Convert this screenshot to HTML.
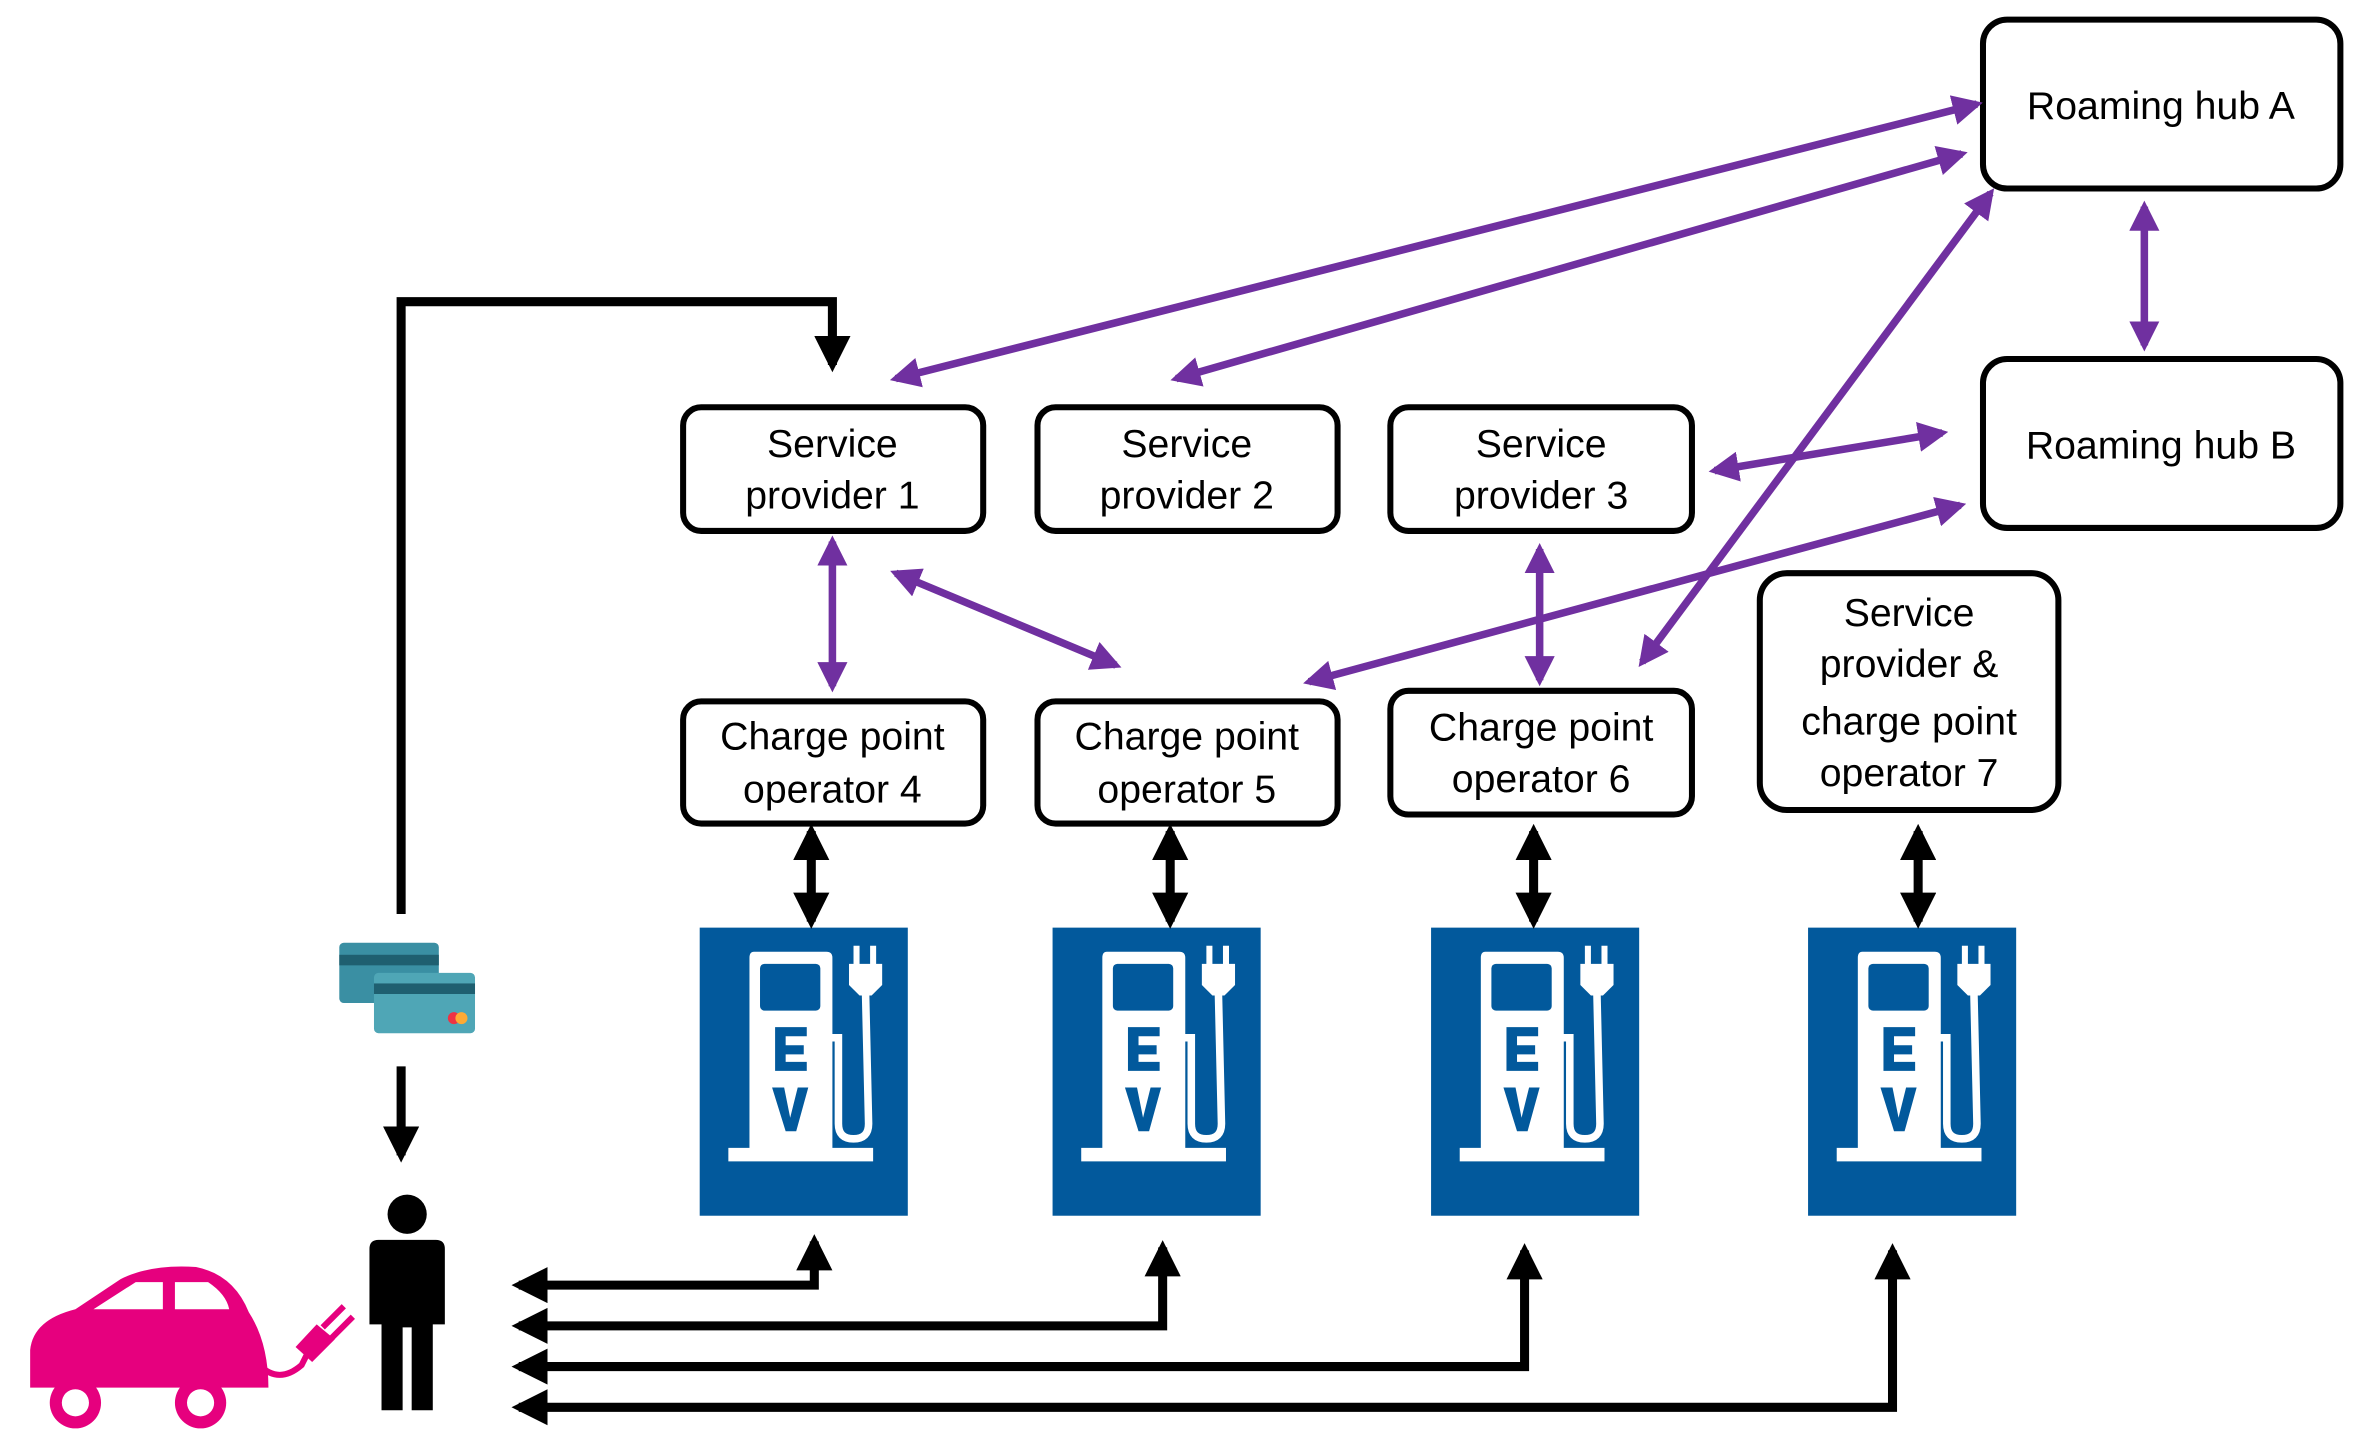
<!DOCTYPE html>
<html><head><meta charset="utf-8"><style>html,body{margin:0;padding:0;background:#fff}svg{display:block}</style></head>
<body>
<svg width="2363" height="1445" viewBox="0 0 1567 958" preserveAspectRatio="none" xmlns="http://www.w3.org/2000/svg" font-family="Liberation Sans, sans-serif">
<defs>
<marker id="pa" viewBox="0 0 10 10" refX="8" refY="5" markerWidth="4" markerHeight="4" orient="auto-start-reverse"><path d="M0,0 L10,5 L0,10 z" fill="#7030a0"/></marker>
<marker id="ba" viewBox="0 0 10 10" refX="8" refY="5" markerWidth="4" markerHeight="4" orient="auto-start-reverse"><path d="M0,0 L10,5 L0,10 z" fill="#000"/></marker>
<g id="ev">
<rect x="0" y="0" width="138" height="191" fill="#02599c"/>
<path d="M36,16 H84 Q88,16 88,20 V146 H115 V155 H19 V146 H33 V20 Q33,16 36,16 Z" fill="#fff"/>
<rect x="40" y="24" width="40" height="31" rx="3" fill="#02599c"/>
<path d="M50,66 H71 V72 H57 V78 H69 V84 H57 V89 H71 V95 H50 Z" fill="#02599c"/>
<path d="M48,106 H56 L60,126 L65,106 H72 L64,135 H57 Z" fill="#02599c"/>
<path d="M86,73 H92 V130 Q92,140 102,140 Q112,140 112,130 L110,44" fill="none" stroke="#fff" stroke-width="5"/>
<path d="M99,24 H121 V38 L114,45 H106 L99,38 Z" fill="#fff"/>
<rect x="102" y="12" width="4" height="13" fill="#fff"/><rect x="113" y="12" width="4" height="13" fill="#fff"/>
</g>
</defs>
<g fill="none" stroke="#000" stroke-width="4">
<rect x="1315" y="13" width="237" height="112" rx="16"/>
<rect x="1315" y="238" width="237" height="112" rx="16"/>
<rect x="453" y="270" width="199" height="82" rx="12"/>
<rect x="688" y="270" width="199" height="82" rx="12"/>
<rect x="922" y="270" width="200" height="82" rx="12"/>
<rect x="453" y="465" width="199" height="81" rx="12"/>
<rect x="688" y="465" width="199" height="81" rx="12"/>
<rect x="922" y="458" width="200" height="82" rx="12"/>
<rect x="1167" y="380" width="198" height="157" rx="18"/>
</g>
<g font-size="26" text-anchor="middle" fill="#000">
<text x="1433" y="79">Roaming hub A</text>
<text x="1433" y="304">Roaming hub B</text>
<text x="552" y="303">Service</text><text x="552" y="337">provider 1</text>
<text x="787" y="303">Service</text><text x="787" y="337">provider 2</text>
<text x="1022" y="303">Service</text><text x="1022" y="337">provider 3</text>
<text x="552" y="497">Charge point</text><text x="552" y="532">operator 4</text>
<text x="787" y="497">Charge point</text><text x="787" y="532">operator 5</text>
<text x="1022" y="491">Charge point</text><text x="1022" y="525">operator 6</text>
<text x="1266" y="415">Service</text><text x="1266" y="449">provider &amp;</text><text x="1266" y="487">charge point</text><text x="1266" y="521">operator 7</text>
</g>
<use href="#ev" x="464" y="615"/><use href="#ev" x="698" y="615"/><use href="#ev" x="949" y="615"/><use href="#ev" x="1199" y="615"/>
<g stroke="#7030a0" stroke-width="5" fill="none" marker-start="url(#pa)" marker-end="url(#pa)">
<line x1="1311" y1="69" x2="594" y2="251"/>
<line x1="1301" y1="102" x2="780" y2="251"/>
<line x1="1320" y1="128" x2="1089" y2="439"/>
<line x1="1422" y1="137" x2="1422" y2="229"/>
<line x1="1137" y1="312" x2="1288" y2="287"/>
<line x1="1300" y1="335" x2="868" y2="452"/>
<line x1="552" y1="359" x2="552" y2="455"/>
<line x1="594" y1="380" x2="740" y2="441"/>
<line x1="1021" y1="364" x2="1021" y2="451"/>
</g>
<g stroke="#000" stroke-width="6" fill="none">
<line x1="538" y1="551" x2="538" y2="611" marker-start="url(#ba)" marker-end="url(#ba)"/>
<line x1="776" y1="551" x2="776" y2="611" marker-start="url(#ba)" marker-end="url(#ba)"/>
<line x1="1017" y1="551" x2="1017" y2="611" marker-start="url(#ba)" marker-end="url(#ba)"/>
<line x1="1272" y1="551" x2="1272" y2="611" marker-start="url(#ba)" marker-end="url(#ba)"/>
<polyline points="266,606 266,200 552,200 552,242" marker-end="url(#ba)"/>
<line x1="266" y1="707" x2="266" y2="766" marker-end="url(#ba)"/>
<polyline points="540,823 540,852 344,852" marker-start="url(#ba)" marker-end="url(#ba)"/>
<polyline points="771,827 771,879 344,879" marker-start="url(#ba)" marker-end="url(#ba)"/>
<polyline points="1011,829 1011,906 344,906" marker-start="url(#ba)" marker-end="url(#ba)"/>
<polyline points="1255,829 1255,933 344,933" marker-start="url(#ba)" marker-end="url(#ba)"/>
</g>
<rect x="225" y="625" width="66" height="40" rx="3" fill="#3a8fa3"/>
<rect x="225" y="633" width="66" height="7" fill="#1f5f70"/>
<rect x="248" y="645" width="67" height="40" rx="3" fill="#4fa6b6"/>
<rect x="248" y="652" width="67" height="7" fill="#1f5f70"/>
<circle cx="301" cy="675" r="4" fill="#e34"/><circle cx="306" cy="675" r="4" fill="#fa3"/>
<circle cx="270" cy="805" r="13" fill="#000"/>
<path d="M251,822 H289 Q295,822 295,828 V878 H287 V935 H273 V880 H267 V935 H253 V878 H245 V828 Q245,822 251,822 Z" fill="#000"/>
<path d="M20,920 V895 Q22,875 50,868 L80,848 Q100,838 130,840 Q155,845 165,870 Q178,890 178,920 Z" fill="#e6007e"/>
<path d="M62,868 L90,850 H108 V868 Z M116,850 H138 Q150,858 152,868 H116 Z" fill="#fff"/>
<circle cx="50" cy="930" r="17" fill="#e6007e"/><circle cx="50" cy="930" r="9" fill="#fff"/>
<circle cx="133" cy="930" r="17" fill="#e6007e"/><circle cx="133" cy="930" r="9" fill="#fff"/>
<path d="M172,905 Q185,918 200,905 L205,895" fill="none" stroke="#e6007e" stroke-width="4"/>
<path d="M196,893 L210,878 L222,888 L207,903 Z" fill="#e6007e"/>
<line x1="214" y1="880" x2="228" y2="866" stroke="#e6007e" stroke-width="4"/>
<line x1="220" y1="887" x2="234" y2="873" stroke="#e6007e" stroke-width="4"/>
</svg>
</body></html>
